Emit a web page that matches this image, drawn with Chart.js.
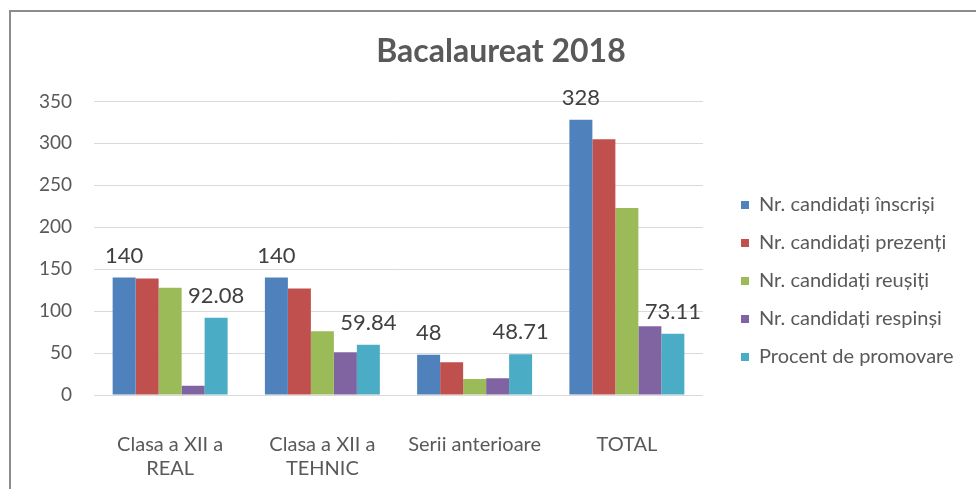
<!DOCTYPE html>
<html>
<head>
<meta charset="utf-8">
<script src="https://cdn.jsdelivr.net/npm/chart.js@4"></script>
<style>
  body{margin:0;background:#fff;}
  #wrap{position:relative;width:976px;height:489px;overflow:hidden;}
  #frame{position:absolute;left:9px;top:10px;width:990px;height:500px;border:2px solid #8c8c8c;}
  #chart{position:absolute;left:0;top:0;}
</style>
</head>
<body>
<div id="wrap">
  <div id="frame"></div>
  <canvas id="chart" width="976" height="489"></canvas>
</div>
<script>
const categorii=[["Clasa a XII a","REAL"],["Clasa a XII a","TEHNIC"],"Serii anterioare","TOTAL"];
const inscrisi=[140,140,48,328];
const prezenti=[139,127,39,305];
const reusiti=[128,76,19,223];
const respinsi=[11,51,20,82];
const procent=[92.08,59.84,48.71,73.11];

const FONT="Lato, 'Open Sans', sans-serif";
const GRI="#595959";

// etichete deasupra barelor (doar pentru seriile marcate cu eticheta)
const eticheteBare={
  id:"eticheteBare",
  afterDatasetsDraw(chart){
    const ctx=chart.ctx;
    ctx.save();
    ctx.font="22px "+FONT;
    ctx.fillStyle="#404040";
    ctx.textAlign="center";
    ctx.textBaseline="alphabetic";
    chart.data.datasets.forEach((ds,i)=>{
      if(!ds.eticheta) return;
      chart.getDatasetMeta(i).data.forEach((bar,j)=>{
        ctx.fillText(ds.eticheta(ds.data[j]),bar.x,bar.y-15);
      });
    });
    ctx.restore();
  }
};

// legenda verticala in dreapta, in spatiul lasat de axa "loc"
const legenda={
  id:"legenda",
  afterDraw(chart){
    const ctx=chart.ctx;
    ctx.save();
    ctx.font="20px "+FONT;
    ctx.textBaseline="middle";
    ctx.textAlign="left";
    chart.data.datasets.forEach((ds,i)=>{
      const y=205+i*38;
      ctx.fillStyle=ds.backgroundColor;
      ctx.fillRect(741,y-4,8,8);
      ctx.fillStyle=GRI;
      ctx.fillText(ds.label,759,y);
    });
    ctx.restore();
  }
};

new Chart(document.getElementById("chart"),{
  type:"bar",
  data:{
    labels:categorii,
    datasets:[
      {label:"Nr. candidați înscriși",data:inscrisi,backgroundColor:"#4F81BD",eticheta:v=>String(v)},
      {label:"Nr. candidați prezenți",data:prezenti,backgroundColor:"#C0504D"},
      {label:"Nr. candidați reușiți",data:reusiti,backgroundColor:"#9BBB59"},
      {label:"Nr. candidați respinși",data:respinsi,backgroundColor:"#8064A2"},
      {label:"Procent de promovare",data:procent,backgroundColor:"#4BACC6",eticheta:v=>v.toFixed(2)}
    ]
  },
  options:{
    responsive:false,
    animation:false,
    layout:{padding:{left:26,right:0,top:0,bottom:0}},
    datasets:{bar:{categoryPercentage:0.755,barPercentage:1.0}},
    plugins:{
      legend:{display:false},
      tooltip:{enabled:false},
      title:{
        display:true,
        text:"Bacalaureat 2018",
        color:GRI,
        font:{family:FONT,size:32,weight:"bold",lineHeight:1.2},
        padding:{top:32,bottom:31}
      }
    },
    scales:{
      x:{
        grid:{display:false},
        border:{display:false},
        ticks:{color:GRI,font:{family:FONT,size:20,lineHeight:1.2},padding:30,maxRotation:0},
        afterFit(s){s.height=94;}
      },
      y:{
        min:0,max:350,
        border:{display:false},
        grid:{color:"#d9d9d9",drawTicks:false},
        ticks:{stepSize:50,color:GRI,font:{family:FONT,size:19},padding:22},
        afterFit(s){s.width=68;}
      },
      // axa goala din dreapta: rezerva locul pentru legenda
      loc:{
        position:"right",
        display:true,
        grid:{display:false},
        border:{display:false},
        ticks:{display:false},
        afterFit(s){s.width=273;}
      }
    }
  },
  plugins:[eticheteBare,legenda]
});
</script>
</body>
</html>
